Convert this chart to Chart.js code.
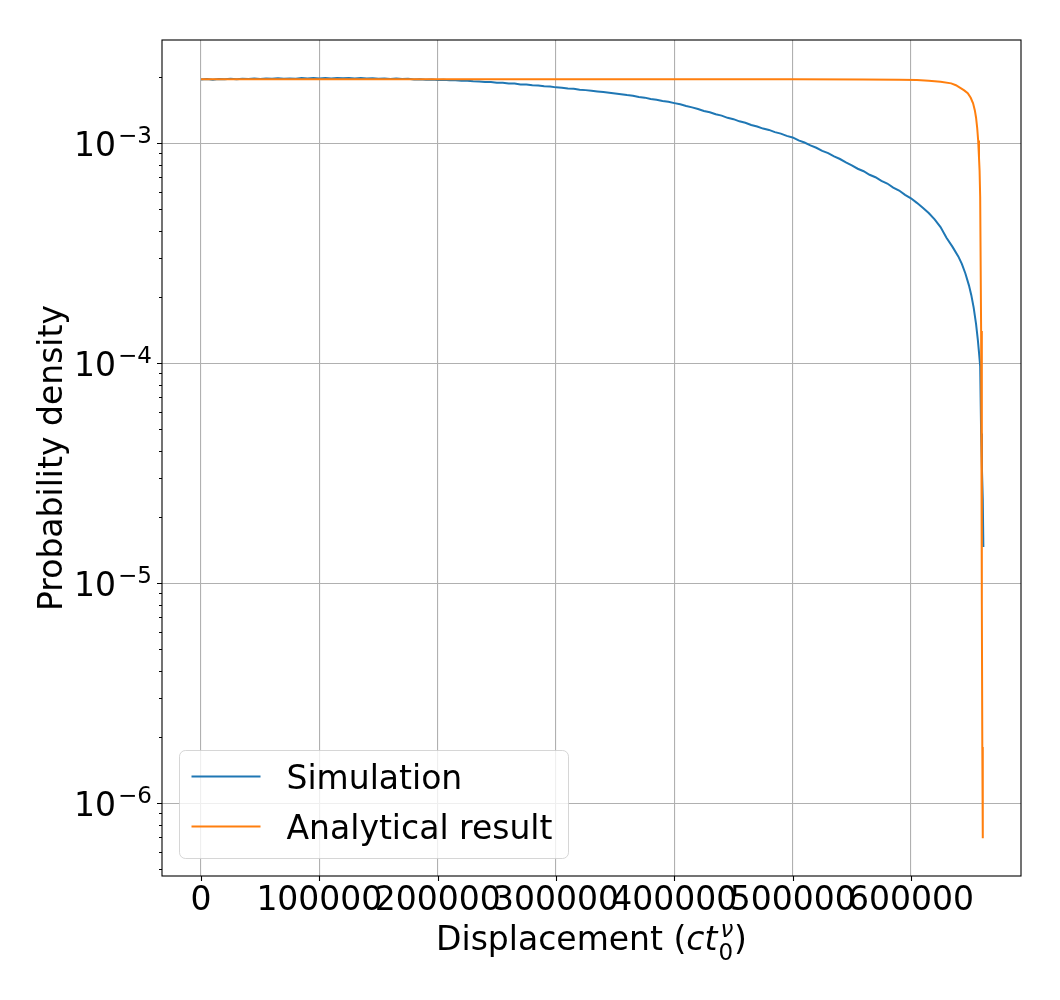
<!DOCTYPE html>
<html>
<head>
<meta charset="utf-8">
<script src="https://cdn.jsdelivr.net/npm/chart.js@4.4.1/dist/chart.umd.min.js"></script>
<style>
  html, body { margin: 0; padding: 0; background: #ffffff; }
  #wrap { width: 1060px; height: 1000px; }
</style>
</head>
<body>
<div id="wrap"><canvas id="c" width="1060" height="1000"></canvas></div>
<script>
// ---------------- DATA ----------------
const seriesNames = ['Simulation', 'Analytical result'];

// Simulation (histogram density), displacement in units of c t0^nu
const simX = [
  0, 5000, 10000, 15000, 20000, 25000, 30000, 35000, 40000, 45000,
  50000, 55000, 60000, 65000, 70000, 75000, 80000, 85000, 90000, 95000,
  100000, 105000, 110000, 115000, 120000, 125000, 130000, 135000, 140000, 145000,
  150000, 155000, 160000, 165000, 170000, 175000, 180000, 185000, 190000, 195000,
  200000, 205000, 210000, 215000, 220000, 225000, 230000, 235000, 240000, 245000,
  250000, 255000, 260000, 265000, 270000, 275000, 280000, 285000, 290000, 295000,
  300000, 305000, 310000, 315000, 320000, 325000, 330000, 335000, 340000, 345000,
  350000, 355000, 360000, 365000, 370000, 375000, 380000, 385000, 390000, 395000,
  400000, 405000, 410000, 415000, 420000, 425000, 430000, 435000, 440000, 445000,
  450000, 455000, 460000, 465000, 470000, 475000, 480000, 485000, 490000, 495000,
  500000, 505000, 510000, 515000, 520000, 525000, 530000, 535000, 540000, 545000,
  550000, 555000, 560000, 565000, 570000, 575000, 580000, 585000, 590000, 595000,
  600000, 605000, 610000, 615000, 620000, 625000, 630000, 635000, 640000,
  643000, 646000, 649000, 651000, 653000, 655000, 656500, 657500, 658500,
  659300, 660000, 660700, 661200
];
const simDensity = [
  1.948e-3, 1.957e-3, 1.945e-3, 1.960e-3, 1.952e-3, 1.963e-3, 1.954e-3, 1.966e-3, 1.958e-3, 1.969e-3,
  1.957e-3, 1.970e-3, 1.962e-3, 1.974e-3, 1.964e-3, 1.972e-3, 1.966e-3, 1.978e-3, 1.969e-3, 1.980e-3,
  1.971e-3, 1.979e-3, 1.970e-3, 1.982e-3, 1.973e-3, 1.979e-3, 1.969e-3, 1.981e-3, 1.970e-3, 1.976e-3,
  1.965e-3, 1.972e-3, 1.961e-3, 1.967e-3, 1.957e-3, 1.962e-3, 1.951e-3, 1.956e-3, 1.945e-3, 1.949e-3,
  1.941e-3, 1.944e-3, 1.932e-3, 1.935e-3, 1.922e-3, 1.924e-3, 1.913e-3, 1.911e-3, 1.901e-3, 1.899e-3,
  1.886e-3, 1.884e-3, 1.870e-3, 1.867e-3, 1.852e-3, 1.849e-3, 1.835e-3, 1.829e-3, 1.815e-3, 1.810e-3,
  1.795e-3, 1.789e-3, 1.773e-3, 1.767e-3, 1.752e-3, 1.744e-3, 1.731e-3, 1.720e-3, 1.708e-3, 1.698e-3,
  1.684e-3, 1.672e-3, 1.656e-3, 1.643e-3, 1.624e-3, 1.612e-3, 1.590e-3, 1.578e-3, 1.556e-3, 1.543e-3,
  1.522e-3, 1.503e-3, 1.478e-3, 1.456e-3, 1.432e-3, 1.402e-3, 1.383e-3, 1.355e-3, 1.336e-3, 1.305e-3,
  1.287e-3, 1.258e-3, 1.240e-3, 1.211e-3, 1.192e-3, 1.166e-3, 1.150e-3, 1.124e-3, 1.106e-3, 1.080e-3,
  1.063e-3, 1.030e-3, 1.008e-3, 0.978e-3, 0.954e-3, 0.924e-3, 0.902e-3, 0.871e-3, 0.848e-3, 0.818e-3,
  0.793e-3, 0.766e-3, 0.746e-3, 0.719e-3, 0.701e-3, 0.674e-3, 0.656e-3, 0.629e-3, 0.610e-3, 0.583e-3,
  0.562e-3, 0.536e-3, 0.509e-3, 0.482e-3, 0.451e-3, 0.416e-3, 0.372e-3, 0.339e-3, 0.306e-3,
  0.283e-3, 0.256e-3, 0.226e-3, 0.204e-3, 0.179e-3, 0.151e-3, 0.128e-3, 0.112e-3, 0.097e-3,
  4.8e-5, 3.3e-5, 2.4e-5, 1.46e-5
];

// Analytical result
const anaX = [
  0, 100000, 200000, 300000, 400000, 500000, 560000, 590000, 605000, 615000,
  625000, 634000, 638000, 642000, 645000, 648000, 650500, 652500, 654000, 655000,
  656000, 656800, 657500, 658000, 658500, 659300, 659900, 660300, 660700
];
const anaDensity = [
  1.955e-3, 1.955e-3, 1.955e-3, 1.955e-3, 1.954e-3, 1.953e-3, 1.950e-3, 1.945e-3, 1.937e-3, 1.925e-3,
  1.905e-3, 1.872e-3, 1.835e-3, 1.780e-3, 1.740e-3, 1.690e-3, 1.610e-3, 1.520e-3, 1.410e-3, 1.310e-3,
  1.170e-3, 1.030e-3, 0.860e-3, 0.750e-3, 0.570e-3, 1.4e-4, 8.0e-6, 1.8e-6, 6.93e-7
];

// Ticks
const xTickValues = [0, 100000, 200000, 300000, 400000, 500000, 600000];
const xTickLabels = ['0', '100000', '200000', '300000', '400000', '500000', '600000'];
const yMajorTicks = [1e-6, 1e-5, 1e-4, 1e-3];
const yMajorBase = ['10', '10', '10', '10'];
const yMajorExp = ['\u22126', '\u22125', '\u22124', '\u22123'];
const yMinorMultipliers = [2, 3, 4, 5, 6, 7, 8, 9];
const yMinorDecades = [1e-7, 1e-6, 1e-5, 1e-4, 1e-3];

// ---------------- STYLE ----------------
const FONT = '"DejaVu Sans"';
const BLUE = '#1f77b4';
const ORANGE = '#ff7f0e';
const GRID = '#b0b0b0';

function isMajor(v) {
  const l = Math.log10(v);
  return Math.abs(l - Math.round(l)) < 1e-9;
}

const decor = {
  id: 'mplDecor',
  afterDatasetsDraw(chart) {
    const { ctx, chartArea: a, scales: { x, y } } = chart;
    ctx.save();
    ctx.strokeStyle = '#000';
    ctx.lineWidth = 1.1;
    // frame
    ctx.strokeRect(a.left, a.top, a.right - a.left, a.bottom - a.top);
    // x tick marks
    ctx.beginPath();
    x.ticks.forEach(t => {
      const px = Math.round(x.getPixelForValue(t.value)) + 0.5;
      ctx.moveTo(px, a.bottom); ctx.lineTo(px, a.bottom + 5);
    });
    // y tick marks
    y.ticks.forEach(t => {
      const py = Math.round(y.getPixelForValue(t.value)) + 0.5;
      const len = isMajor(t.value) ? 5 : 3;
      ctx.moveTo(a.left - len, py); ctx.lineTo(a.left, py);
    });
    ctx.stroke();

    ctx.fillStyle = '#000';
    // x tick labels
    ctx.font = `33px ${FONT}`;
    ctx.textAlign = 'center';
    ctx.textBaseline = 'alphabetic';
    xTickValues.forEach((v, i) => {
      ctx.fillText(xTickLabels[i], x.getPixelForValue(v), a.bottom + 34);
    });
    // y tick labels (10^n)
    ctx.textAlign = 'left';
    yMajorTicks.forEach((v, i) => {
      const py = y.getPixelForValue(v);
      ctx.font = `23px ${FONT}`;
      const wE = ctx.measureText(yMajorExp[i]).width;
      ctx.font = `33px ${FONT}`;
      const wB = ctx.measureText(yMajorBase[i]).width;
      const right = a.left - 10;
      const xe = right - wE;
      const xb = xe - 2 - wB;
      ctx.fillText(yMajorBase[i], xb, py + 12.5);
      ctx.font = `23px ${FONT}`;
      ctx.fillText(yMajorExp[i], xe, py);
    });

    // y axis title
    ctx.save();
    ctx.font = `33px ${FONT}`;
    ctx.translate(62, (a.top + a.bottom) / 2);
    ctx.rotate(-Math.PI / 2);
    ctx.textAlign = 'center';
    ctx.fillText('Probability density', 0, 0);
    ctx.restore();

    // x axis title: Displacement (c t_0^nu)
    ctx.font = `33px ${FONT}`;
    const w1 = ctx.measureText('Displacement (').width;
    ctx.font = `italic 33px ${FONT}`;
    const wct = ctx.measureText('ct').width;
    ctx.font = `23px ${FONT}`;
    const w0 = ctx.measureText('0').width;
    ctx.font = `italic 23px ${FONT}`;
    const wnu = ctx.measureText('\u03bd').width;
    ctx.font = `33px ${FONT}`;
    const wp = ctx.measureText(')').width;
    const wsub = Math.max(w0, wnu);
    const total = w1 + wct + 1 + wsub + 1 + wp;
    let cx = (a.left + a.right) / 2 - total / 2;
    const base = a.bottom + 74;
    ctx.textAlign = 'left';
    ctx.font = `33px ${FONT}`;
    ctx.fillText('Displacement (', cx, base); cx += w1;
    ctx.font = `italic 33px ${FONT}`;
    ctx.fillText('ct', cx, base); cx += wct + 1;
    ctx.font = `23px ${FONT}`;
    ctx.fillText('0', cx, base + 10);
    ctx.font = `italic 23px ${FONT}`;
    ctx.fillText('\u03bd', cx + 2, base - 13);
    cx += wsub + 1;
    ctx.font = `33px ${FONT}`;
    ctx.fillText(')', cx, base);
    ctx.restore();
  },
  afterDraw(chart) {
    const { ctx, chartArea: a } = chart;
    // legend box (lower left, inside axes)
    const bx = a.left + 17.5, by = a.bottom - 125.5, bw = 389, bh = 108, r = 6;
    ctx.save();
    ctx.beginPath();
    ctx.moveTo(bx + r, by);
    ctx.lineTo(bx + bw - r, by);
    ctx.arcTo(bx + bw, by, bx + bw, by + r, r);
    ctx.lineTo(bx + bw, by + bh - r);
    ctx.arcTo(bx + bw, by + bh, bx + bw - r, by + bh, r);
    ctx.lineTo(bx + r, by + bh);
    ctx.arcTo(bx, by + bh, bx, by + bh - r, r);
    ctx.lineTo(bx, by + r);
    ctx.arcTo(bx, by, bx + r, by, r);
    ctx.closePath();
    ctx.fillStyle = 'rgba(255,255,255,0.8)';
    ctx.fill();
    ctx.strokeStyle = 'rgba(204,204,204,0.8)';
    ctx.lineWidth = 1;
    ctx.stroke();
    const ds = chart.data.datasets;
    const rows = [by + 26, by + 76];
    ds.forEach((d, i) => {
      ctx.strokeStyle = d.borderColor;
      ctx.lineWidth = 2;
      ctx.beginPath();
      ctx.moveTo(bx + 12, rows[i]);
      ctx.lineTo(bx + 81, rows[i]);
      ctx.stroke();
      ctx.fillStyle = '#000';
      ctx.font = `33px ${FONT}`;
      ctx.textAlign = 'left';
      ctx.textBaseline = 'alphabetic';
      ctx.fillText(d.label, bx + 107, rows[i] + 12.5);
    });
    ctx.restore();
  }
};

const yTicksAll = [];
yMinorDecades.forEach(d => {
  yTicksAll.push(d);
  yMinorMultipliers.forEach(m => yTicksAll.push(m * d));
});

new Chart(document.getElementById('c'), {
  type: 'line',
  data: {
    datasets: [
      {
        label: seriesNames[0],
        data: simX.map((v, i) => ({ x: v, y: simDensity[i] })),
        borderColor: BLUE,
        backgroundColor: BLUE,
        borderWidth: 2,
        pointRadius: 0,
        tension: 0,
        fill: false,
        order: 2
      },
      {
        label: seriesNames[1],
        data: anaX.map((v, i) => ({ x: v, y: anaDensity[i] })),
        borderColor: ORANGE,
        backgroundColor: ORANGE,
        borderWidth: 2,
        pointRadius: 0,
        tension: 0,
        fill: false,
        order: 1
      }
    ]
  },
  options: {
    responsive: false,
    animation: false,
    devicePixelRatio: 1,
    layout: { padding: { left: 0, top: 40, right: 39, bottom: 0 } },
    plugins: { legend: { display: false }, tooltip: { enabled: false } },
    events: [],
    scales: {
      x: {
        type: 'linear',
        min: -33000,
        max: 693000,
        border: { display: false },
        grid: { color: GRID, lineWidth: 1.1, drawTicks: false },
        ticks: { display: false },
        afterBuildTicks: s => { s.ticks = xTickValues.map(v => ({ value: v })); },
        afterFit: s => { s.height = 124; }
      },
      y: {
        type: 'logarithmic',
        min: 4.67e-7,
        max: 2.947e-3,
        border: { display: false },
        grid: {
          color: c => (c.tick && isMajor(c.tick.value)) ? GRID : 'rgba(0,0,0,0)',
          lineWidth: 1.1,
          drawTicks: false
        },
        ticks: { display: false },
        afterBuildTicks: s => {
          s.ticks = yTicksAll.filter(v => v >= s.min && v <= s.max).map(v => ({ value: v }));
        },
        afterFit: s => { s.width = 162; }
      }
    }
  },
  plugins: [decor]
});
</script>
</body>
</html>
